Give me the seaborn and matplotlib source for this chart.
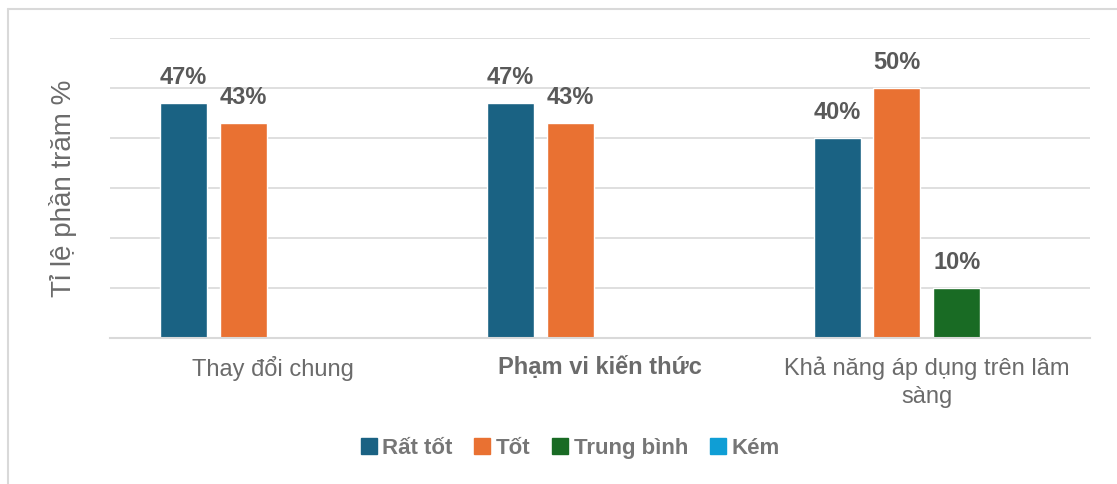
import pandas as pd
import matplotlib.pyplot as plt
import seaborn as sns
from matplotlib.lines import Line2D

# Dữ liệu
categories = ['Thay đổi chung', 'Phạm vi kiến thức', 'Khả năng áp dụng trên lâm\nsàng']
levels = ['Rất tốt', 'Tốt', 'Trung bình', 'Kém']
rat_tot = [47, 47, 40]
tot = [43, 43, 50]
trung_binh = [0, 0, 10]
kem = [0, 0, 0]
colors = ['#1a6283', '#e97132', '#196b24', '#0f9ed5']

# Bảng dạng dài cho seaborn
rows = []
for lvl, vals in zip(levels, [rat_tot, tot, trung_binh, kem]):
    for cat, v in zip(categories, vals):
        rows.append({'cat': cat, 'level': lvl, 'value': v})
df = pd.DataFrame(rows)

sns.set_theme(style='white')
plt.rcParams['font.family'] = ['Liberation Sans', 'DejaVu Sans']

fig = plt.figure(figsize=(11.17, 4.84), dpi=100)
ax = fig.add_axes([0.0985, 0.3017, 0.8775, 0.6198])

sns.barplot(data=df, x='cat', y='value', hue='level', order=categories,
            hue_order=levels, palette=colors, width=0.733, gap=0.215,
            saturation=1, ax=ax, legend=False)

ax.set_ylim(0, 60)
ax.set_yticks(range(0, 70, 10))
ax.yaxis.grid(True, color='#d9d9d9', linewidth=1.2)
ax.set_axisbelow(True)
ax.tick_params(axis='y', length=0, labelleft=False)
ax.tick_params(axis='x', length=0, pad=13)
ax.set_xticks(range(len(categories)))
ax.set_xticklabels(categories, fontsize=17, color='#6b6b6b', linespacing=1.4)
for s in ['top', 'right', 'left']:
    ax.spines[s].set_visible(False)
ax.spines['bottom'].set_color('#d9d9d9')
ax.spines['bottom'].set_linewidth(1.5)
ax.set_xlabel('')
ax.set_ylabel('Tỉ lệ phần trăm %', fontsize=20, color='#6b6b6b', labelpad=24)

ax.get_xticklabels()[1].set_fontweight('bold')

# Nhãn dữ liệu
for container in ax.containers:
    labels = [f'{b.get_height():.0f}%' if b.get_height() > 0 else '' for b in container]
    ax.bar_label(container, labels=labels, padding=10, fontsize=17,
                 fontweight='bold', color='#595959')

# Chú giải
handles = [Line2D([], [], marker='s', linestyle='', markersize=12,
                  markerfacecolor=c, markeredgecolor=c) for c in colors]
leg = fig.legend(handles, levels, loc='center', bbox_to_anchor=(0.509, 0.074),
                 ncol=4, frameon=False, handletextpad=0.1, columnspacing=0.85,
                 handlelength=1.0, prop={'size': 16, 'weight': 'bold'})
for t in leg.get_texts():
    t.set_color('#767676')

# Viền khung
fig.add_artist(Line2D([8 / 1117, 1], [1 - 9 / 484, 1 - 9 / 484],
                      transform=fig.transFigure, color='#d9d9d9', linewidth=1.5))
fig.add_artist(Line2D([8 / 1117, 8 / 1117], [0, 1 - 9 / 484],
                      transform=fig.transFigure, color='#d9d9d9', linewidth=1.5))

fig.savefig('out.png', dpi=100, facecolor='white')
